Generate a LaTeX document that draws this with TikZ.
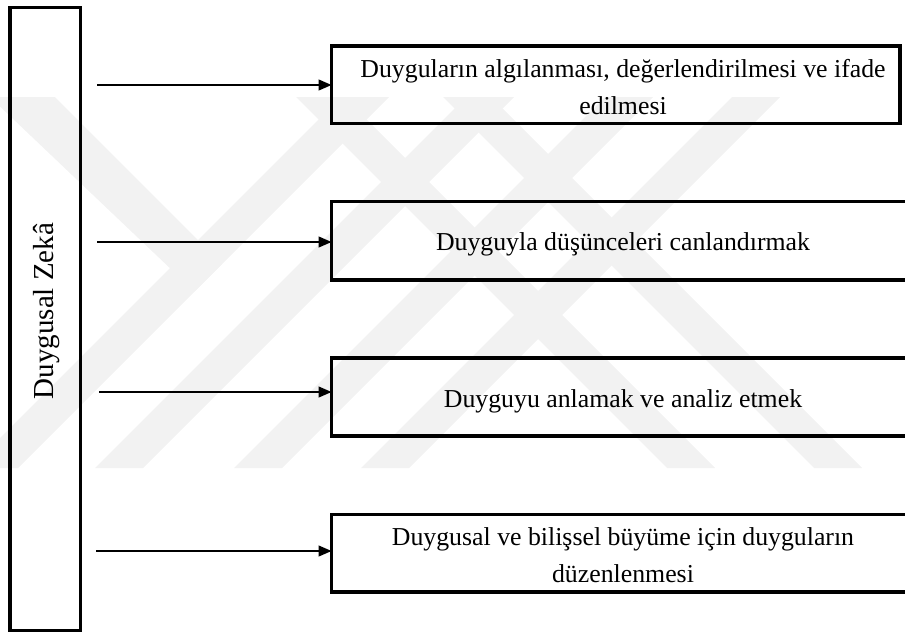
\documentclass[tikz,border=0pt]{standalone}
\usepackage{fontspec}
\setmainfont{Liberation Serif}
\usetikzlibrary{arrows.meta}

\tikzset{
  frame/.style={draw=black, line width=3.2pt, rectangle, inner sep=0pt, outer sep=0pt},
  link/.style={draw=black, line width=1.3pt, -{Triangle[length=13pt,width=11pt]}},
  lbl/.style={inner sep=0pt, outer sep=0pt, font=\fontsize{25.8pt}{37pt}\selectfont, anchor=base},
  wm/.style={fill=black!5}
}

\begin{document}
\begin{tikzpicture}[x=1pt,y=-1pt]
\useasboundingbox (0,0) rectangle (905,637);

% faint background emblem
\begin{scope}
  \clip (0,97) rectangle (905,468);
  % rising bands
  \foreach \a in {-30,95,234,361}
    \fill[wm] (\a,468) -- (\a+48,468) -- (\a+48+371,97) -- (\a+371,97) -- cycle;
  % falling bands
  \foreach \a in {667,814}
    \fill[wm] (\a,468) -- (\a+48,468) -- (\a+48-371,97) -- (\a-371,97) -- cycle;
  % short falling band on the left
  \fill[wm] (-10,97) -- (55,97) -- (222,264) -- (194.5,291.5) -- cycle;
\end{scope}

% main concept column
\node[frame, minimum width=70.7pt, minimum height=623.4pt] (ez) at (45.35,319) {};
\node[inner sep=0pt, rotate=90, anchor=base, font=\fontsize{29pt}{34pt}\selectfont] (ezt) at (53,311) {Duygusal Zekâ};

% branch boxes
\node[frame, minimum width=568.5pt, minimum height=77.7pt] (b1) at (615.75,84.85) {};
\node[frame, minimum width=584.5pt, minimum height=78.3pt] (b2) at (623.75,240.85) {};
\node[frame, minimum width=584.5pt, minimum height=78pt]   (b3) at (623.75,397) {};
\node[frame, minimum width=584.5pt, minimum height=77.7pt] (b4) at (623.75,553.15) {};

% box texts
\node[lbl] (t1) at (623,77) {\vtop{\baselineskip=37pt\halign{\hfil#\hfil\cr Duyguların algılanması, değerlendirilmesi ve ifade\cr edilmesi\cr}}};
\node[lbl] (t2) at (623,250) {Duyguyla düşünceleri canlandırmak};
\node[lbl] (t3) at (623,407) {Duyguyu anlamak ve analiz etmek};
\node[lbl] (t4) at (623,545) {\vtop{\baselineskip=37pt\halign{\hfil#\hfil\cr Duygusal ve bilişsel büyüme için duyguların\cr düzenlenmesi\cr}}};

% arrows
\coordinate (s1) at (97,85);
\coordinate (s2) at (97,242);
\coordinate (s3) at (99,392);
\coordinate (s4) at (96,551);
\draw[link] (s1) -- (s1 -| b1.west);
\draw[link] (s2) -- (s2 -| b2.west);
\draw[link] (s3) -- (s3 -| b3.west);
\draw[link] (s4) -- (s4 -| b4.west);
\end{tikzpicture}
\end{document}
